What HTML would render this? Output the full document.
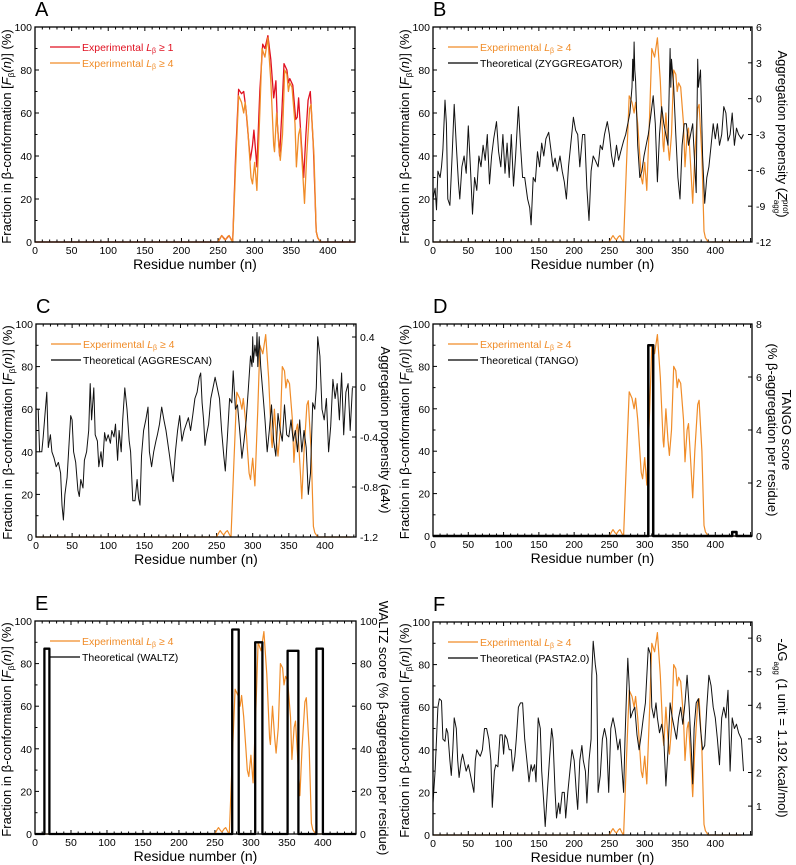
<!DOCTYPE html>
<html><head><meta charset="utf-8">
<style>
html,body{margin:0;padding:0;background:#fff;}
svg{display:block;font-family:"Liberation Sans",Arial,sans-serif;}
</style></head>
<body>
<svg id="fig" width="796" height="865" viewBox="0 0 796 865"></svg>
<script>
// ---- data ----
const expRes = [0,250,253,255,258,260,263,265,268,270,274,278,282,285,287,290,293,295,297,300,303,307,310,314,318,322,326,327,330,333,335,338,341,344,346,348,351,355,357,360,362,366,368,371,375,377,381,384,386,390,437];
const expL4  = [0,0,2,3,1.5,1,2.5,3,1,0,35,68,65,60,65,55,40,30,27,37,24,60,90,86,95,75,45,42,60,45,38,50,80,78,70,74,72,55,35,50,53,30,18,40,62,64,40,5,2,0,0];
const expL1Res = [0,250,255,260,265,270,274,278,282,285,288,291,294,297,299,303,307,311,314,318,322,326,329,331,334,337,340,344,346,348,352,356,358,360,364,367,370,373,376,380,384,386,390,437];
const expL1 = [0,0,3,1,3,0,40,71,69,70,62,50,38,45,52,35,70,92,90,96,85,67,75,55,40,60,83,80,74,76,73,57,58,67,45,30,50,66,70,45,5,2,0,0];

const zyggRes = [0,3,5,7,10,12,14,17,19,21,24,27,30,33,36,38,41,44,47,50,53,56,59,62,65,68,71,74,77,80,83,86,90,93,96,99,102,105,108,111,114,117,121,124,127,130,134,137,139,142,145,148,151,154,157,160,164,167,170,173,176,180,183,186,189,192,196,199,202,205,208,212,215,218,221,224,227,230,234,237,240,243,247,250,253,256,260,263,266,270,273,276,279,282,283,284,285,286,287,290,293,296,299,302,305,309,312,315,318,321,324,327,330,333,335,336,337,338,341,344,347,350,353,356,359,362,365,368,371,373,374,375,376,379,382,385,388,391,394,397,400,403,406,409,412,415,418,421,424,427,430,433,437,440];
const zyggPct = [20,25,15,33,30,35,43,66,55,20,17,40,64,45,28,20,35,40,32,54,35,13,30,24,40,35,45,38,50,27,40,48,56,42,35,50,32,46,30,50,26,40,63,45,30,30,20,16,8,30,28,42,35,46,40,48,51,43,35,39,33,40,33,28,20,35,48,58,52,50,35,50,50,25,10,33,40,38,35,45,43,50,56,50,40,35,45,38,42,47,50,55,60,72,85,75,93,80,75,45,30,33,40,45,50,60,68,55,28,50,63,55,50,45,75,90,72,85,72,50,30,20,45,55,55,45,50,55,35,23,60,85,72,80,40,18,30,35,45,55,48,55,45,50,63,60,47,50,60,45,53,50,48,50,45];

const aggrRes = [0,3,5,8,10,13,15,17,20,22,25,28,31,34,36,38,40,43,46,48,50,52,55,58,60,62,65,67,70,73,75,77,80,82,85,87,90,92,95,97,100,103,105,108,110,113,115,118,120,123,126,129,131,134,137,140,142,144,146,149,152,155,157,160,163,166,168,171,174,177,180,182,185,188,190,193,196,199,202,205,208,211,214,217,220,223,226,228,230,232,234,236,239,242,245,248,251,254,257,260,262,265,268,271,273,276,279,282,285,288,291,294,297,299,300,301,303,305,306,307,309,311,314,317,320,323,326,329,332,335,338,341,344,347,350,353,356,359,362,365,368,371,374,377,380,383,386,388,390,393,396,399,402,405,408,411,414,417,420,423,426,429,432,435,438];
const aggrPct = [60,60,40,40,47,60,68,42,48,40,37,33,35,30,15,8,20,28,45,57,55,40,35,22,19,27,23,36,40,50,72,55,70,48,45,33,40,33,49,45,48,44,50,47,53,36,50,40,55,70,60,45,40,17,17,27,18,15,38,50,55,61,40,33,40,45,48,53,61,55,50,45,38,30,26,40,50,57,45,50,53,56,50,57,65,68,75,77,63,55,43,48,53,65,70,75,70,65,50,38,31,47,65,63,78,60,62,50,37,45,55,70,85,80,94,82,90,85,96,80,94,80,68,55,40,50,62,45,38,58,50,45,62,48,47,55,45,50,40,55,40,50,42,20,30,63,60,70,94,85,60,55,65,40,52,74,65,72,55,77,48,68,72,50,70,70];

const tangoStart = [305,424];
const tangoEnd   = [312,430];
const tangoScore = [7.2,0.15];

const waltzStart = [13,274,306,351,391];
const waltzEnd   = [20,283,316,366,400];
const waltzScore = [87,96,90,86,87];

const pastaRes = [0,3,5,7,9,12,14,17,19,21,24,26,28,30,33,35,37,40,42,45,47,50,52,55,58,60,62,65,67,70,73,76,79,82,84,87,89,92,95,98,100,102,105,108,111,113,116,118,121,124,127,130,133,136,139,141,144,146,149,152,154,157,159,162,165,168,170,173,175,178,180,183,186,188,191,194,197,200,203,205,208,211,213,216,218,221,224,225,227,230,232,234,237,240,243,246,249,252,255,258,262,265,268,270,272,274,276,278,280,283,286,289,292,295,298,301,305,308,310,313,316,318,321,324,327,330,333,336,339,342,345,348,351,354,357,360,363,366,368,370,373,376,379,382,385,388,391,394,397,400,403,406,409,412,415,418,421,424,427,430,433,437,440];
const pastaPct = [15,30,45,60,64,63,45,44,50,48,35,28,40,55,50,35,27,35,38,33,30,33,30,25,20,35,40,38,37,40,50,50,45,35,13,30,33,32,47,47,38,47,45,40,40,30,37,45,60,62,62,45,35,25,33,30,33,25,55,50,30,15,4,20,35,50,45,20,8,15,10,20,20,8,20,30,40,35,20,12,35,42,35,30,15,35,45,75,91,80,75,20,28,45,50,45,20,50,55,50,40,45,30,20,45,65,83,70,55,58,60,47,40,47,55,62,88,85,60,55,62,55,48,52,45,23,40,62,55,50,45,55,60,52,62,75,60,40,24,50,62,64,50,40,42,60,75,70,60,55,45,33,55,60,55,68,30,55,50,52,48,45,30];

const xTicks = [0,50,100,150,200,250,300,350,400];
const yTicks = [0,20,40,60,80,100];

// ---- helpers ----
const NS="http://www.w3.org/2000/svg";
const svg=document.getElementById('fig');
function mk(tag,attrs,parent){const e=document.createElementNS(NS,tag);for(const k in attrs)e.setAttribute(k,attrs[k]);(parent||svg).appendChild(e);return e;}
const ORANGE="#f08c28", RED="#e01020";

function panel(p){
  const g=mk('g',{});
  
  
  const X=v=>p.x0+(v/p.xmax)*(p.x1-p.x0);
  const Y=v=>p.y1-(v/100)*(p.y1-p.y0);
  p.X=X;p.Y=Y;
  const lt=mk('text',{x:p.x0,y:p.y0-11,'font-size':20},g);lt.textContent=p.letter;
  
  
  for(let v=0;v<=p.xmax;v+=10){
    const major=v%50===0, L=major?4:2.5;
    mk('line',{x1:X(v),x2:X(v),y1:p.y1,y2:p.y1-L,stroke:'#000','stroke-width':1},g);
    mk('line',{x1:X(v),x2:X(v),y1:p.y0,y2:p.y0+L,stroke:'#000','stroke-width':1},g);
  }
  xTicks.forEach(v=>{const t=mk('text',{x:X(v),y:p.y1+12,'font-size':10.5,'text-anchor':'middle'},g);t.textContent=v;
    
    });
  for(let v=0;v<=100;v+=10){const L=v%20===0?4:2.5;
    mk('line',{x1:p.x0,x2:p.x0+L,y1:Y(v),y2:Y(v),stroke:'#000'},g);
    if(!p.rticks) mk('line',{x1:p.x1,x2:p.x1-L,y1:Y(v),y2:Y(v),stroke:'#000'},g);}
  yTicks.forEach(v=>{const t=mk('text',{x:p.x0-3,y:Y(v)+4,'font-size':10.5,'text-anchor':'end'},g);t.textContent=v;
    
    });
  if(p.rticks){
    const R=v=>p.y1-(v-p.rmin)/(p.rmax-p.rmin)*(p.y1-p.y0);
    p.R=R;
    p.rticks.forEach(v=>{mk('line',{x1:p.x1,x2:p.x1-4,y1:R(v),y2:R(v),stroke:'#000'},g);
      const t=mk('text',{x:p.x1+4,y:R(v)+4,'font-size':10.5},g);t.textContent=v;
      
      });
  }
  const xl=mk('text',{x:(p.x0+p.x1)/2,y:p.y1+27,'font-size':14,'text-anchor':'middle'},g);xl.textContent='Residue number (n)';
  
  
  const yl=mk('text',{transform:`translate(${p.x0-24},${(p.y0+p.y1)/2+2}) rotate(-90)`,'font-size':13,'text-anchor':'middle'},g);
  yl.innerHTML='Fraction in β-conformation [<tspan font-style="italic">F</tspan><tspan font-size="8" dy="3">β</tspan><tspan dy="-3" font-style="italic">(n)</tspan>] (%)';
  
  
  return g;
}
function line(g,xs,ys,X,Y,color,w,name){
  const pts=xs.map((x,i)=>X(x).toFixed(1)+','+Y(ys[i]).toFixed(1)).join(' ');
  const e=mk('polyline',{points:pts,fill:'none',stroke:color,'stroke-width':w,'stroke-linejoin':'round'},g);
  
  
  return e;
}
function frame(g,p){const r=mk('rect',{x:p.x0,y:p.y0,width:p.x1-p.x0,height:p.y1-p.y0,fill:'none',stroke:'#000','stroke-width':1.3},g);
  
  }
function legend(g,p,items){
  items.forEach((it,i)=>{const y=p.y0+20+i*16;
    mk('line',{x1:p.x0+15,x2:p.x0+45,y1:y,y2:y,stroke:it.c,'stroke-width':1.2},g);
    const t=mk('text',{x:p.x0+47,y:y+4,'font-size':10.5,fill:it.tc},g);t.innerHTML=it.t;
    
    });
}
const L4='Experimental <tspan font-style="italic">L</tspan><tspan font-size="7" dy="2">β</tspan><tspan dy="-2"> ≥ 4</tspan>';
const L1='Experimental <tspan font-style="italic">L</tspan><tspan font-size="7" dy="2">β</tspan><tspan dy="-2"> ≥ 1</tspan>';
function rlabel(g,x,y,html,name){const t=mk('text',{transform:`translate(${x},${y}) rotate(90)`,'font-size':13,'text-anchor':'middle'},g);t.innerHTML=html;
  
  }

// A
let pA={letter:'A',x0:35,x1:355,y0:27,y1:242,xmax:437};
let gA=panel(pA);
line(gA,expL1Res,expL1,pA.X,pA.Y,RED,1.3,'experimental-l1-line');
line(gA,expRes,expL4,pA.X,pA.Y,ORANGE,1.3,'experimental-l4-line');
frame(gA,pA);
legend(gA,pA,[{c:RED,tc:RED,t:L1},{c:ORANGE,tc:ORANGE,t:L4}]);

// B
let pB={letter:'B',x0:433,x1:752,y0:27,y1:242,xmax:452,rticks:[-12,-9,-6,-3,0,3,6],rmin:-12,rmax:6};
let gB=panel(pB);
line(gB,expRes,expL4,pB.X,pB.Y,ORANGE,1.2,'experimental-l4-line');
line(gB,zyggRes,zyggPct,pB.X,pB.Y,'#111',1,'zyggregator-line');
frame(gB,pB);
legend(gB,pB,[{c:ORANGE,tc:ORANGE,t:L4},{c:'#000',tc:'#000',t:'Theoretical (ZYGGREGATOR)'}]);
rlabel(gB,778,134,'Aggregation propensity (<tspan font-style="italic">Z</tspan><tspan font-size="8" dy="-5">prof</tspan><tspan font-size="8" dy="9" dx="-14">agg</tspan><tspan dy="-4">)</tspan>','right-axis-title');

// C
let pC={letter:'C',x0:36,x1:356,y0:324,y1:537,xmax:443,rticks:[-1.2,-0.8,-0.4,0,0.4],rmin:-1.2,rmax:0.504};
let gC=panel(pC);
line(gC,expRes,expL4,pC.X,pC.Y,ORANGE,1.2,'experimental-l4-line');
line(gC,aggrRes,aggrPct,pC.X,pC.Y,'#111',1,'aggrescan-line');
frame(gC,pC);
legend(gC,pC,[{c:ORANGE,tc:ORANGE,t:L4},{c:'#000',tc:'#000',t:'Theoretical (AGGRESCAN)'}]);
rlabel(gC,381,430,'Aggregation propensity (a4v)','right-axis-title');

// D
let pD={letter:'D',x0:433,x1:752,y0:324,y1:536,xmax:452,rticks:[0,2,4,6,8],rmin:0,rmax:8};
let gD=panel(pD);
line(gD,expRes,expL4,pD.X,pD.Y,ORANGE,1.2,'experimental-l4-line');
{let xs=[0],ys=[0];tangoStart.forEach((s,i)=>{xs.push(s,s,tangoEnd[i],tangoEnd[i]);ys.push(0,tangoScore[i],tangoScore[i],0);});xs.push(pD.xmax);ys.push(0);
 line(gD,xs,ys,pD.X,pD.R,'#000',2.5,'tango-line');}
frame(gD,pD);
legend(gD,pD,[{c:ORANGE,tc:ORANGE,t:L4},{c:'#000',tc:'#000',t:'Theoretical (TANGO)'}]);
rlabel(gD,782,430,'TANGO score','right-axis-title');
rlabel(gD,768,430,'(% β-aggregation per residue)','right-axis-subtitle');

// E
let pE={letter:'E',x0:35,x1:356,y0:621,y1:834,xmax:446,rticks:[0,20,40,60,80,100],rmin:0,rmax:100};
let gE=panel(pE);
line(gE,expRes,expL4,pE.X,pE.Y,ORANGE,1.2,'experimental-l4-line');
{let xs=[0],ys=[0];waltzStart.forEach((s,i)=>{xs.push(s,s,waltzEnd[i],waltzEnd[i]);ys.push(0,waltzScore[i],waltzScore[i],0);});xs.push(pE.xmax);ys.push(0);
 line(gE,xs,ys,pE.X,pE.R,'#000',2.3,'waltz-line');}
frame(gE,pE);
legend(gE,pE,[{c:ORANGE,tc:ORANGE,t:L4},{c:'#000',tc:'#000',t:'Theoretical (WALTZ)'}]);
rlabel(gE,379,728,'WALTZ score (% β-aggregation per residue)','right-axis-title');

// F
let pF={letter:'F',x0:433,x1:752,y0:622,y1:835,xmax:452,rticks:[1,2,3,4,5,6],rmin:0.14,rmax:6.48};
let gF=panel(pF);
line(gF,expRes,expL4,pF.X,pF.Y,ORANGE,1.2,'experimental-l4-line');
line(gF,pastaRes,pastaPct,pF.X,pF.Y,'#111',1,'pasta-line');
frame(gF,pF);
legend(gF,pF,[{c:ORANGE,tc:ORANGE,t:L4},{c:'#000',tc:'#000',t:'Theoretical (PASTA2.0)'}]);
rlabel(gF,778,728,'-ΔG<tspan font-size="8" dy="4">agg</tspan><tspan dy="-4">  (1 unit = 1.192 kcal/mol)</tspan>','right-axis-title');
</script>
</body></html>
